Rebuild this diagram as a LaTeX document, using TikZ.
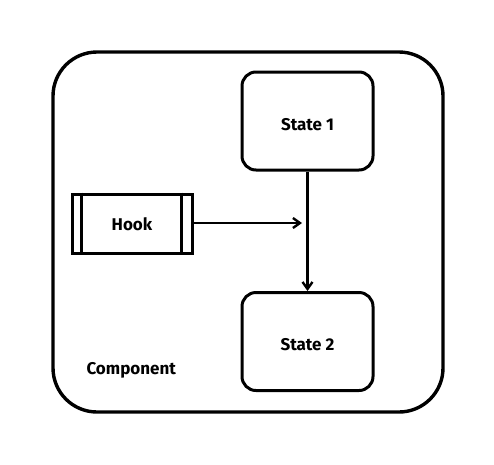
\documentclass[tikz,border=0pt]{standalone}
\usepackage{fontspec}
\setmainfont{Fira Sans}
\usetikzlibrary{arrows.meta}
\begin{document}
\begin{tikzpicture}[x=1pt,y=-1pt,
  every node/.style={font=\fontsize{17}{19}\selectfont\bfseries},
  statebox/.style={draw,line width=3pt,rounded corners=14pt,minimum width=131pt,minimum height=98pt,inner sep=0pt},
  conn/.style={line width=2.4pt,-{Straight Barb[length=7pt,width=10pt,line width=2.4pt]}}]
\useasboundingbox (0,0) rectangle (494,464);
\draw[line width=3.4pt,rounded corners=44pt] (53,52) rectangle (443,412);
\node[statebox] (s1) at (307.5,121) {};
\node[statebox] (s2) at (307.5,341.5) {};
\node[draw,line width=3pt,minimum width=120pt,minimum height=59pt,inner sep=0pt] (hook) at (132,223.5) {};
\node (t1) at (307.5,125) {State 1};
\node (t2) at (307.5,345) {State 2};
\node (th) at (132,224.5) {Hook};
\draw[line width=3pt] ([xshift=11pt]hook.north west) -- ([xshift=11pt]hook.south west);
\draw[line width=3pt] ([xshift=-12pt]hook.north east) -- ([xshift=-12pt]hook.south east);
\coordinate (m) at (302,223);
\draw[conn] (hook.east |- m) -- (m);
\draw[conn] (s1.south) -- (s2.north);
\node[anchor=west] (comp) at (83,370) {Component};
\end{tikzpicture}
\end{document}
